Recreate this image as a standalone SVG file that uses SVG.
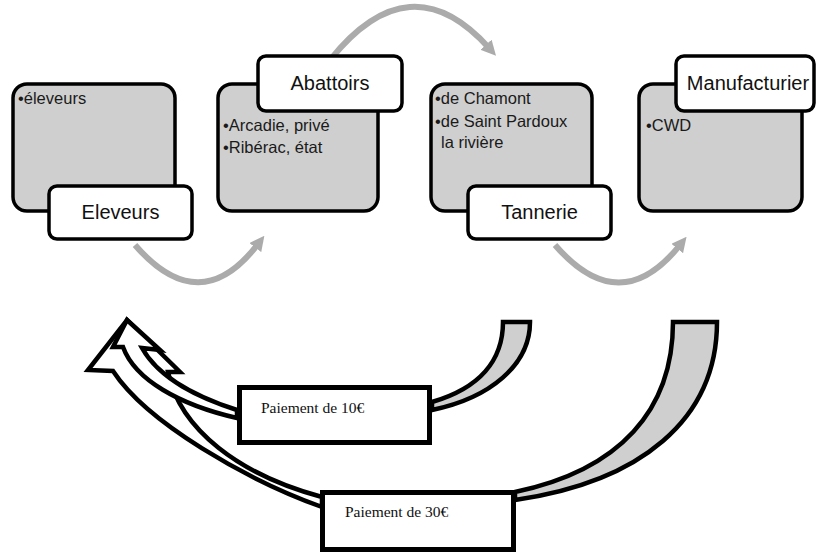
<svg xmlns="http://www.w3.org/2000/svg" width="817" height="554" viewBox="0 0 817 554">
<defs>
<style>
.box{fill:#cfcfcf;stroke:#000;stroke-width:3.5}
.lbl{fill:#fff;stroke:#000;stroke-width:3.5}
.lt{font-family:"Liberation Sans",Arial,sans-serif;font-size:20px;fill:#111;text-anchor:middle}
.bt{font-family:"Liberation Sans",Arial,sans-serif;font-size:16.5px;fill:#1a1a1a}
.arc{fill:none;stroke:#ababab;stroke-width:6}
.blk{stroke:#000;stroke-width:4.5;stroke-linejoin:miter}
.pay{fill:#fff;stroke:#000;stroke-width:5}
.pt{font-family:"Liberation Serif","Times New Roman",serif;font-size:15.5px;fill:#111}
</style>
<marker id="ah" viewBox="0 0 10 10" refX="3" refY="5" markerWidth="15" markerHeight="15" markerUnits="userSpaceOnUse" orient="auto">
<path d="M0,0 L10,5 L0,10 Z" fill="#ababab"/>
</marker>
</defs>
<g id="connectors">
<path class="arc" d="M135,245 Q200,320 258,244" marker-end="url(#ah)"/>
<path class="arc" d="M330,60 Q410,-40 489,48" marker-end="url(#ah)"/>
<path class="arc" d="M555,245 Q620,320 680,245" marker-end="url(#ah)"/>
</g>
<g id="eleveurs">
<rect class="box" x="13" y="84" width="162" height="127" rx="14"/>
<text class="bt" x="18" y="104">•éleveurs</text>
<rect class="lbl" x="49" y="186" width="143" height="53" rx="8"/>
<text class="lt" x="120.5" y="219">Eleveurs</text>
</g>
<g id="abattoirs">
<rect class="box" x="218" y="84" width="160" height="127" rx="14"/>
<text class="bt" x="223" y="131">•Arcadie, privé</text>
<text class="bt" x="223" y="153">•Ribérac, état</text>
<rect class="lbl" x="258" y="56" width="144" height="55" rx="8"/>
<text class="lt" x="330" y="90">Abattoirs</text>
</g>
<g id="tannerie">
<rect class="box" x="431" y="84" width="161" height="127" rx="14"/>
<text class="bt" x="435" y="104">•de Chamont</text>
<text class="bt" x="435" y="127">•de Saint Pardoux</text>
<text class="bt" x="441" y="148">la rivière</text>
<rect class="lbl" x="468" y="186" width="143" height="53" rx="8"/>
<text class="lt" x="539.5" y="219">Tannerie</text>
</g>
<g id="manufacturier">
<rect class="box" x="639" y="84" width="163" height="127" rx="14"/>
<text class="bt" x="646" y="131">•CWD</text>
<rect class="lbl" x="676" y="56" width="138" height="55" rx="8"/>
<text class="lt" x="748" y="90">Manufacturier</text>
</g>
<g id="arrow-30">
<path class="blk" fill="#cfcfcf" d="M673,322 L717,322 C717,420 640,482 515,500 L515,492 C620,470 673,410 673,322 Z"/>
<path class="blk" fill="#fff" d="M322,497 C240,475 180,430 168,372 L180,372 L127,320 L88,370 L113,371 C147,423 247,480 322,507 Z"/>
</g>
<g id="arrow-10">
<path class="blk" fill="#cfcfcf" d="M503,322 L530,322 C530,365 490,398 432,410 L432,402 C480,388 503,360 503,322 Z"/>
<path class="blk" fill="#fff" d="M237,410 C200,398 160,380 142,348 L160,350 L127,320 L113,347 L123,347 C135,380 180,405 237,418 Z"/>
</g>
<g id="pay-10">
<rect class="pay" x="239.5" y="387.5" width="190" height="55"/>
<text class="pt" x="261" y="413">Paiement de 10€</text>
</g>
<g id="pay-30">
<rect class="pay" x="322.5" y="492.5" width="191" height="57"/>
<text class="pt" x="345" y="517">Paiement de 30€</text>
</g>
</svg>
